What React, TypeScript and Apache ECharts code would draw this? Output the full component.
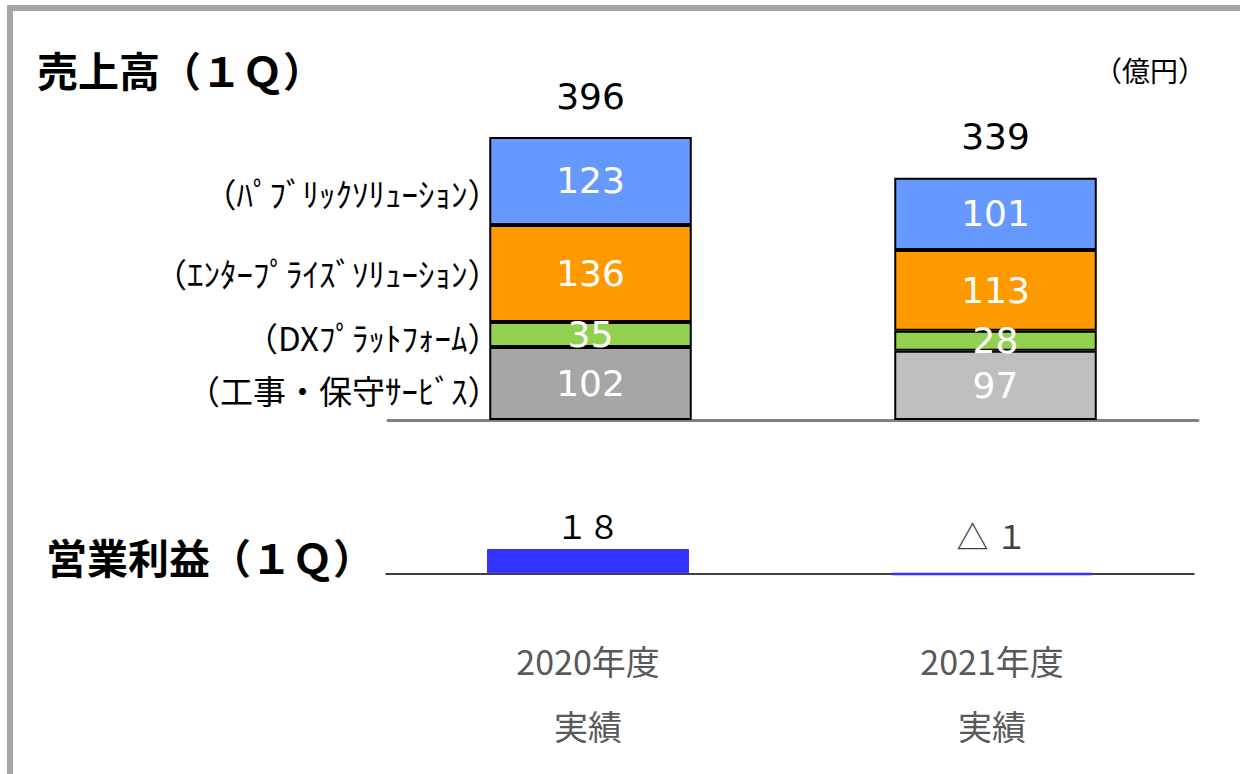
import React, { useEffect, useRef } from "react";
import * as echarts from "echarts";

const categories = ["2020年度\n実績", "2021年度\n実績"];
const segmentNames = [
  "（工事・保守ｻｰﾋﾞｽ）",
  "（DXﾌﾟﾗｯﾄﾌｫｰﾑ）",
  "（ｴﾝﾀｰﾌﾟﾗｲｽﾞｿﾘｭｰｼｮﾝ）",
  "（ﾊﾟﾌﾞﾘｯｸｿﾘｭｰｼｮﾝ）",
];
const constructionService = [102, 97];
const dxPlatform = [35, 28];
const enterpriseSolution = [136, 113];
const publicSolution = [123, 101];
const salesTotals = [396, 339];
const operatingProfit = [18, -1];
const operatingProfitLabels = ["１８", "△ １"];

const segmentSeries = [constructionService, dxPlatform, enterpriseSolution, publicSolution];
const segmentColors = [
  ["#A6A6A6", "#BFBFBF"],
  ["#92D050", "#92D050"],
  ["#FF9900", "#FF9900"],
  ["#6699FF", "#6699FF"],
];

const JP = '"Noto Sans CJK JP", sans-serif';
const NUM = '"DejaVu Sans", Verdana, sans-serif';

export default function App() {
  const ref = useRef<HTMLDivElement>(null);

  useEffect(() => {
    document.body.style.margin = "0";
    if (!ref.current) return;
    const chart = echarts.init(ref.current, undefined, { renderer: "svg" });

    const stackSeries: any[] = segmentSeries.map((arr, si) => ({
      type: "bar",
      name: segmentNames[si],
      stack: "sales",
      xAxisIndex: 0,
      yAxisIndex: 0,
      barWidth: "50%",
      data: arr.map((v, i) => ({
        value: v,
        itemStyle: { color: segmentColors[si][i] },
      })),
      itemStyle: { borderColor: "#000", borderWidth: 2 },
      label: {
        show: true,
        position: "inside",
        color: "#fff",
        fontFamily: NUM,
        fontSize: 36,
      },
    }));

    stackSeries.push({
      type: "bar",
      name: "total",
      stack: "sales",
      xAxisIndex: 0,
      yAxisIndex: 0,
      barWidth: "50%",
      data: salesTotals.map(() => 0),
      itemStyle: { color: "transparent", borderWidth: 0 },
      label: {
        show: true,
        position: "top",
        distance: 23,
        color: "#000",
        fontFamily: NUM,
        fontSize: 36,
        formatter: (p: any) => String(salesTotals[p.dataIndex]),
      },
    });

    stackSeries.push({
      type: "bar",
      name: "営業利益",
      xAxisIndex: 1,
      yAxisIndex: 1,
      barWidth: "50%",
      data: operatingProfit.map((v, i) => ({
        value: v,
        itemStyle: i === 0 ? {} : { borderWidth: 2.5 },
        label: {
          show: true,
          position: i === 0 ? "top" : "insideBottom",
          distance: i === 0 ? 8 : 0,
          offset: i === 0 ? [0, 0] : [0, -24],
          color: i === 0 ? "#000" : "#404040",
          fontFamily: JP,
          fontSize: 32,
          formatter: operatingProfitLabels[i],
        },
      })),
      itemStyle: { color: "#3333FF", borderColor: "#3333FF", borderWidth: 1 },
    });

    const option: any = {
      animation: false,
      backgroundColor: "#fff",
      grid: [
        { left: 388, width: 810, top: 137, height: 283 },
        { left: 386, width: 808, top: 549, height: 27 },
      ],
      xAxis: [
        {
          type: "category",
          gridIndex: 0,
          data: categories,
          axisLine: { lineStyle: { color: "#808080", width: 3 } },
          axisTick: { show: false },
          axisLabel: { show: false },
        },
        {
          type: "category",
          gridIndex: 1,
          data: categories,
          axisLine: { onZero: true, lineStyle: { color: "#000", width: 1.5 } },
          axisTick: { show: false },
          axisLabel: {
            show: true,
            margin: 52,
            color: "#595959",
            fontFamily: JP,
            fontSize: 34,
            lineHeight: 65,
          },
        },
      ],
      yAxis: [
        { type: "value", gridIndex: 0, min: 0, max: 396, show: false },
        { type: "value", gridIndex: 1, min: -2, max: 18, show: false },
      ],
      series: stackSeries,
    };

    chart.setOption(option);

    const labelOffsets = [6, 2, 0, 12];
    const graphics: any[] = [
      {
        type: "rect",
        shape: { x: 10, y: 8, width: 1400, height: 1000 },
        style: { fill: "none", stroke: "#A6A6A6", lineWidth: 6 },
        silent: true,
      },
      {
        type: "text",
        left: 37,
        top: 48,
        style: {
          text: "売上高（１Ｑ）",
          font: `bold 41px ${JP}`,
          fill: "#000",
        },
      },
      {
        type: "text",
        left: 46,
        top: 535,
        style: {
          text: "営業利益（１Ｑ）",
          font: `bold 41px ${JP}`,
          fill: "#000",
        },
      },
      {
        type: "text",
        left: 1094,
        top: 56,
        style: {
          text: "（億円）",
          font: `28px ${JP}`,
          fill: "#000",
        },
      },
    ];

    let cum = 0;
    segmentSeries.forEach((arr, si) => {
      const v = arr[0];
      const center = cum + v / 2;
      cum += v;
      const p = chart.convertToPixel({ gridIndex: 0 } as any, [0, center]) as number[];
      graphics.push({
        type: "text",
        x: p[0] - 101 - 12 + 23,
        y: p[1] + labelOffsets[si],
        style: {
          text: segmentNames[si],
          font: `33px ${JP}`,
          fill: "#000",
          align: "right",
          verticalAlign: "middle",
        },
      });
    });

    chart.setOption({ graphic: graphics });

    return () => chart.dispose();
  }, []);

  return <div ref={ref} style={{ width: 1240, height: 774 }} />;
}
